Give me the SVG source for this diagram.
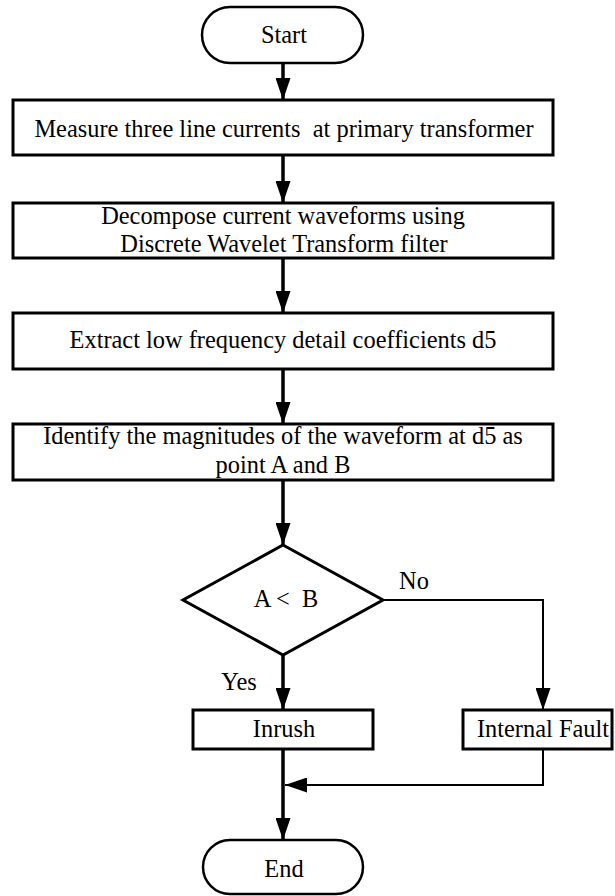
<svg xmlns="http://www.w3.org/2000/svg" width="615" height="896" viewBox="0 0 615 896">
  <style>
    .box { fill: #ffffff; stroke: #000000; stroke-width: 3; }
    .term { fill: #ffffff; stroke: #000000; stroke-width: 2.5; }
    .lbl { font-family: "Liberation Serif", "Times New Roman", serif; font-size: 24.4px; fill: #000000; text-anchor: middle; }
    .flow { fill: none; stroke: #000000; stroke-width: 3.5; }
    .thin { fill: none; stroke: #000000; stroke-width: 2; }
  </style>
  <defs>
    <marker id="head" viewBox="0 0 22 15" refX="22" refY="7.5" markerWidth="22" markerHeight="15" markerUnits="userSpaceOnUse" orient="auto">
      <path d="M0,0 L22,7.5 L0,15 Z" fill="#000000"/>
    </marker>
  </defs>
  <rect width="615" height="896" fill="#ffffff"/>

  <!-- connectors -->
  <g id="connectors">
    <line class="flow" x1="283" y1="63" x2="283" y2="100" marker-end="url(#head)"/>
    <line class="flow" x1="283" y1="155" x2="283" y2="203" marker-end="url(#head)"/>
    <line class="flow" x1="283" y1="258" x2="283" y2="313" marker-end="url(#head)"/>
    <line class="flow" x1="283" y1="369" x2="283" y2="424" marker-end="url(#head)"/>
    <line class="flow" x1="283" y1="480" x2="283" y2="545" marker-end="url(#head)"/>
    <line class="flow" x1="283" y1="655" x2="283" y2="710" marker-end="url(#head)"/>
    <polyline class="thin" points="383,600 543,600 543,710" marker-end="url(#head)"/>
    <polyline class="thin" points="543,749 543,785 285,785" marker-end="url(#head)"/>
    <line class="flow" x1="283" y1="749" x2="283" y2="840" marker-end="url(#head)"/>
    <text class="lbl" x="414" y="589">No</text>
    <text class="lbl" x="239" y="690">Yes</text>
  </g>

  <g id="start">
    <rect class="term" x="202" y="7" width="161" height="56" rx="28" ry="28"/>
    <text class="lbl" x="284" y="43">Start</text>
  </g>

  <g id="measure">
    <rect class="box" x="13" y="100" width="540" height="55"/>
    <text class="lbl" x="284" y="137" xml:space="preserve">Measure three line currents  at primary transformer</text>
  </g>

  <g id="decompose">
    <rect class="box" x="13" y="203" width="540" height="55"/>
    <text class="lbl" x="283" y="224">Decompose current waveforms using</text>
    <text class="lbl" x="284" y="252">Discrete Wavelet Transform filter</text>
  </g>

  <g id="extract">
    <rect class="box" x="13" y="313" width="540" height="56"/>
    <text class="lbl" x="283" y="348">Extract low frequency detail coefficients d5</text>
  </g>

  <g id="identify">
    <rect class="box" x="13" y="424" width="540" height="56"/>
    <text class="lbl" x="283" y="444">Identify the magnitudes of the waveform at d5 as</text>
    <text class="lbl" x="283" y="473">point A and B</text>
  </g>

  <g id="compare">
    <polygon class="box" points="283,545 383,600 283,655 183,600"/>
    <text class="lbl" x="286" y="607" xml:space="preserve">A &lt;  B</text>
  </g>

  <g id="inrush">
    <rect class="box" x="193" y="710" width="180" height="39"/>
    <text class="lbl" x="284" y="737">Inrush</text>
  </g>

  <g id="fault">
    <rect class="box" x="463" y="710" width="149" height="39"/>
    <text class="lbl" x="543" y="737">Internal Fault</text>
  </g>

  <g id="end">
    <rect class="term" x="203" y="840" width="160" height="54" rx="27" ry="27"/>
    <text class="lbl" x="284" y="877">End</text>
  </g>
</svg>
